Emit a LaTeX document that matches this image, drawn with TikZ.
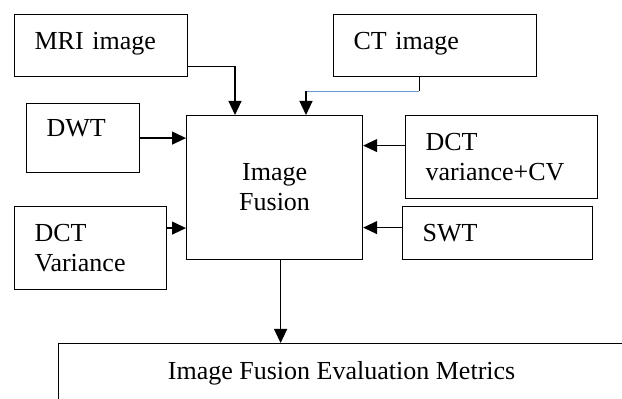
\documentclass[tikz,border=0pt]{standalone}
\usepackage{fontspec}
\setmainfont{Liberation Serif}
\usetikzlibrary{arrows.meta,positioning}

\begin{document}
\begin{tikzpicture}[x=0.5pt, y=-0.5pt, >={Triangle[length=7pt,width=6.5pt]},
   line width=0.6pt,
   every node/.style={font=\fontsize{13}{15}\selectfont},
   inbox/.style={anchor=north west, align=left, inner xsep=10pt, inner ysep=0pt},
   midbox/.style={anchor=north west, align=center, inner sep=0pt},
   ctline/.style={color={rgb,255:red,110;green,150;blue,205}}]
   \useasboundingbox (0,0) rectangle (622,399);
   % input boxes
   \node (mri) at (14,14) [draw, inbox, text width=66.5pt, minimum height=31pt, text height=8.9pt, text depth=5.3pt] {MRI image};
   \node (ct) at (333,14) [draw, inbox, text width=81.5pt, minimum height=31pt, text height=8.9pt, text depth=5.3pt] {CT image};
   \node (dwt) at (26,103) [draw, inbox, text width=36.5pt, minimum height=34.5pt, text height=8.6pt, text depth=10pt] {DWT};
   \node (dctvar) at (14,206) [draw, inbox, text width=56pt, minimum height=41.5pt] {DCT\\Variance};
   \node (dctcv) at (405,115) [draw, inbox, text width=76pt, minimum height=41.5pt] {DCT\\variance+CV};
   \node (swt) at (402,206) [draw, inbox, text width=75pt, minimum height=26.5pt] {SWT};
   % fusion and output
   \node (fusion) at (186,115) [draw, midbox, minimum width=88pt, minimum height=72pt] {Image\\Fusion};
   \node (metrics) at (58,343) [draw, midbox, minimum width=283pt, minimum height=33.5pt, text height=8.9pt, text depth=6.8pt] {Image Fusion Evaluation Metrics};
   % connectors
   \draw[->] ([yshift=5.5pt]mri.south east) -| ([xshift=24.5pt]fusion.north west);
   \coordinate (ctin) at ([xshift=60pt]fusion.north west);
   \coordinate (ctdrop) at ([xshift=-8pt,yshift=-7pt]ct.south);
   \draw ([xshift=-8pt]ct.south) -- (ctdrop);
   \draw[ctline] (ctdrop) -- (ctdrop -| ctin);
   \draw[->] (ctdrop -| ctin) -- (ctin);
   \draw[->] (dwt.east) -- (dwt.east -| fusion.west);
   \draw[->] ([yshift=10pt]dctvar.east) -- ([yshift=10pt]dctvar.east -| fusion.west);
   \draw[->] ([yshift=5.75pt]dctcv.west) -- ([yshift=5.75pt]dctcv.west -| fusion.east);
   \draw[->] ([yshift=2.75pt]swt.west) -- ([yshift=2.75pt]swt.west -| fusion.east);
   \draw[->] ([xshift=3pt]fusion.south) -- ([xshift=3pt]fusion.south |- metrics.north);
\end{tikzpicture}
\end{document}
